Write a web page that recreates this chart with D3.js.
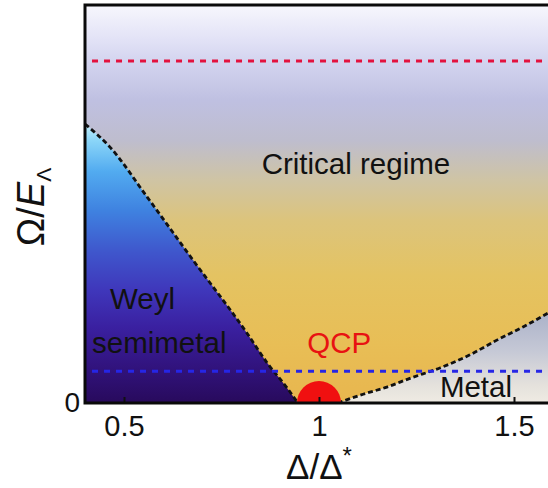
<!DOCTYPE html>
<html><head><meta charset="utf-8">
<script src="https://cdn.jsdelivr.net/npm/d3@7"></script>
<style>body{margin:0;background:#fff}svg{display:block}text{font-family:Arial,"Liberation Sans",sans-serif}</style>
</head><body><svg id="c" width="548" height="488"></svg>
<script>
// ---- data ----
const xTicks = [0.5, 1, 1.5];
const xTickLabels = ["0.5", "1", "1.5"];
const yTicks = [0];
const yTickLabels = ["0"];
// Weyl semimetal / critical boundary (Δ/Δ*, Ω/EΛ)
const weylDelta = [0.4, 0.464, 0.559, 0.677, 0.815, 0.867, 0.918, 0.946];
const weylOmega = [0.701, 0.643, 0.518, 0.359, 0.176, 0.101, 0.038, 0];
// Metal / critical boundary
const metalDelta = [1.048, 1.113, 1.174, 1.233, 1.31, 1.387, 1.456, 1.523, 1.6];
const metalOmega = [0, 0.022, 0.040, 0.062, 0.088, 0.121, 0.158, 0.191, 0.233];
const redLine = [0.859];
const blueLine = [0.08];
const qcpPoint = [1, 0];
const labels = [
  {text: "Critical regime", x: 0.853, y: 0.575, color: "#111"},
  {text: "Weyl", x: 0.464, y: 0.236, color: "#111"},
  {text: "semimetal", x: 0.418, y: 0.126, color: "#111"},
  {text: "QCP", x: 0.97, y: 0.126, color: "#e81212"},
  {text: "Metal", x: 1.31, y: 0.015, color: "#111"}
];

// ---- layout ----
const svg = d3.select("#c");
const pLeft = 85, pTop = 5, pBottom = 403, pWidth = 468;
const x = d3.scaleLinear().domain([0.4, 1.6]).range([pLeft, pLeft + pWidth]);
const y = d3.scaleLinear().domain([0, 1]).range([pBottom, pTop]);

const defs = svg.append("defs");
function grad(id, y1, y2, stops) {
  const g = defs.append("linearGradient").attr("id", id)
    .attr("gradientUnits", "userSpaceOnUse")
    .attr("x1", 0).attr("x2", 0).attr("y1", y1).attr("y2", y2);
  stops.forEach(s => g.append("stop").attr("offset", s[0]).attr("stop-color", s[1]));
}
grad("gCrit", pTop, pBottom, [
  [0, "#f7f7fd"], [0.088, "#e2e2f6"], [0.143, "#d3d4ef"], [0.24, "#bfc0e1"],
  [0.34, "#bebdce"], [0.44, "#cfc4a4"], [0.54, "#dcc47c"], [0.68, "#e4c362"],
  [0.85, "#e8be56"], [1, "#e8b64e"]]);
grad("gWeyl", y(0.701), pBottom, [
  [0, "#c4f0fc"], [0.06, "#8ad5f8"], [0.17, "#52abf0"], [0.31, "#3f82e0"],
  [0.46, "#3f56cc"], [0.6, "#3f36ba"], [0.73, "#3a20a0"], [0.86, "#321480"], [1, "#280a5c"]]);
grad("gMetal", y(0.233), pBottom, [
  [0, "#a9b0c8"], [0.45, "#c6c9d6"], [0.8, "#e4e1dc"], [1, "#efebe3"]]);

svg.append("clipPath").attr("id", "plotClip").append("rect")
  .attr("x", pLeft).attr("y", pTop).attr("width", pWidth).attr("height", pBottom - pTop);

const plot = svg.append("g").attr("clip-path", "url(#plotClip)");
plot.append("rect").attr("x", pLeft).attr("y", pTop).attr("width", pWidth).attr("height", pBottom - pTop)
  .attr("fill", "url(#gCrit)");

const weylPts = weylDelta.map((d, i) => [d, weylOmega[i]]);
const metalPts = metalDelta.map((d, i) => [d, metalOmega[i]]);
const line = d3.line().x(d => x(d[0])).y(d => y(d[1])).curve(d3.curveMonotoneX);
const area = d3.area().x(d => x(d[0])).y0(y(0)).y1(d => y(d[1])).curve(d3.curveMonotoneX);

plot.append("path").datum(weylPts).attr("d", area).attr("fill", "url(#gWeyl)");
plot.append("path").datum(metalPts).attr("d", area).attr("fill", "url(#gMetal)");

[weylPts, metalPts].forEach(pts => {
  plot.append("path").datum(pts).attr("d", line).attr("fill", "none")
    .attr("stroke", "#111").attr("stroke-width", 2.8).attr("stroke-dasharray", "5,3");
});

// horizontal dashed lines
plot.selectAll(".red").data(redLine).enter().append("line")
  .attr("x1", x(0.418)).attr("x2", x(1.6)).attr("y1", d => y(d)).attr("y2", d => y(d))
  .attr("stroke", "#e3123e").attr("stroke-width", 3).attr("stroke-dasharray", "6,6");
plot.selectAll(".blue").data(blueLine).enter().append("line")
  .attr("x1", x(0.418)).attr("x2", x(1.6)).attr("y1", d => y(d)).attr("y2", d => y(d))
  .attr("stroke", "#2626e6").attr("stroke-width", 3).attr("stroke-dasharray", "6,6");

// QCP point
plot.append("circle").attr("cx", x(qcpPoint[0])).attr("cy", y(qcpPoint[1])).attr("r", 22)
  .attr("fill", "#f01010");

// labels
svg.selectAll(".lab").data(labels).enter().append("text")
  .attr("x", d => x(d.x)).attr("y", d => y(d.y)).attr("fill", d => d.color)
  .attr("font-size", 29.5).text(d => d.text);

// axes
const xAxis = d3.axisBottom(x).tickValues(xTicks).tickFormat((d, i) => xTickLabels[i])
  .tickSizeInner(-6).tickSizeOuter(0).tickPadding(12);
const gx = svg.append("g").attr("transform", `translate(0,${pBottom})`).call(xAxis);
gx.select(".domain").remove();
gx.selectAll(".tick line").attr("stroke", "#111").attr("stroke-width", 2);
gx.selectAll("text").attr("font-size", 29).attr("fill", "#111");

const yAxis = d3.axisLeft(y).tickValues(yTicks).tickFormat((d, i) => yTickLabels[i])
  .tickSize(0).tickPadding(5);
const gy = svg.append("g").attr("transform", `translate(${pLeft},0)`).call(yAxis);
gy.select(".domain").remove();
gy.selectAll("text").attr("font-size", 28).attr("fill", "#111");

// frame
svg.append("path")
  .attr("d", `M${pLeft + pWidth + 10},${pTop} H${pLeft} V${pBottom} H${pLeft + pWidth + 10}`)
  .attr("fill", "none").attr("stroke", "#0a0a0a").attr("stroke-width", 3);

// axis titles
const xt = svg.append("text").attr("x", x(1)).attr("y", 479).attr("text-anchor", "middle")
  .attr("font-size", 35).attr("fill", "#111");
xt.append("tspan").text("Δ/Δ");
xt.append("tspan").attr("font-size", 24).attr("dy", -15).text("*");

const yt = svg.append("text").attr("transform", "translate(44,207) rotate(-90)")
  .attr("text-anchor", "middle").attr("font-size", 38).attr("fill", "#111");
yt.append("tspan").text("Ω/");
yt.append("tspan").attr("font-style", "italic").text("E");
yt.append("tspan").attr("font-size", 21).attr("dy", 7).text("Λ");
</script></body></html>
